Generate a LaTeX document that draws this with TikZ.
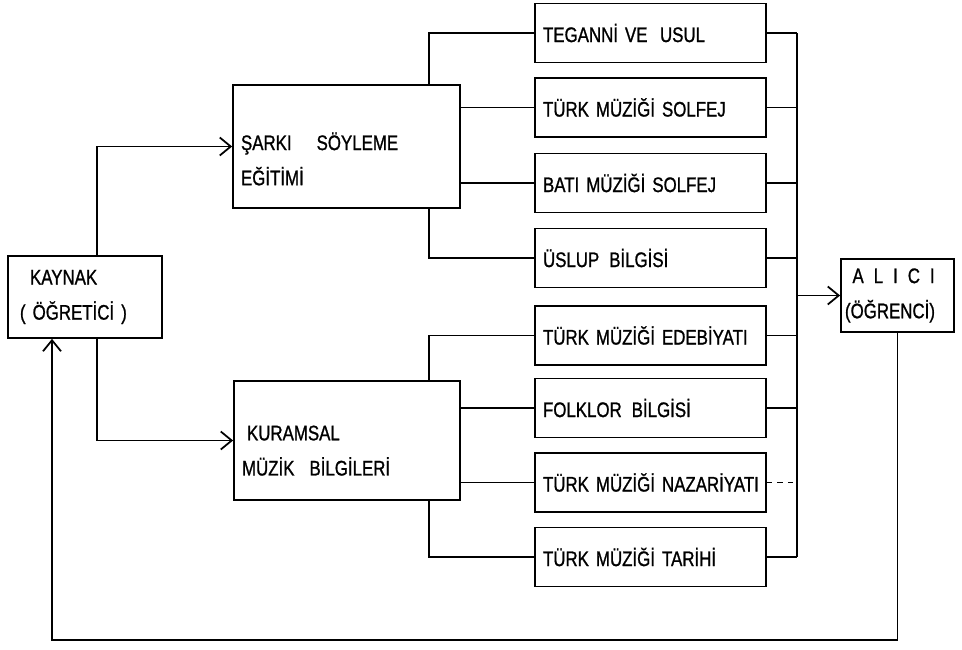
\documentclass[tikz,border=0pt]{standalone}
\usepackage{fontspec}
\setmainfont{Liberation Sans}[FakeStretch=0.8, FakeBold=1]
\usepackage{tikz}
\usetikzlibrary{arrows,arrows.meta,positioning}

\begin{document}
\begin{tikzpicture}[x=0.02cm, y=-0.02cm,
    every node/.style={font=\fontsize{12}{20}\selectfont},
    box/.style={draw, rectangle, line width=1pt, align=left, inner xsep=0.16cm},
    topic/.style={box, minimum width=4.62cm, minimum height=1.18cm, text width=4.3cm},
    link/.style={line width=1pt},
    >={Straight Barb[length=2.2mm,width=3.6mm]}]
    \useasboundingbox (0,0) rectangle (962,649);

    % Source and receiver
    \node[box, minimum width=3.08cm, minimum height=1.64cm, text width=2.6cm] (kaynak) at (85,297) {\hspace{0.2cm}KAYNAK\\( ÖĞRETİCİ )};
    \node[box, minimum width=2.26cm, minimum height=1.46cm, text width=2.1cm, inner xsep=0.08cm] (alici) at (897.5,295.5) {\hspace{0.15cm}A\hspace{0.2cm}L\hspace{0.2cm}I\hspace{0.2cm}C\hspace{0.2cm}I\\(ÖĞRENCİ)};

    % Two branches
    \node[box, minimum width=4.54cm, minimum height=2.46cm, text width=4.22cm] (sarki) at (346.5,146.5) {\rule{0pt}{0.85cm}ŞARKI\hspace{0.5cm}SÖYLEME\\EĞİTİMİ};
    \node[box, minimum width=4.52cm, minimum height=2.38cm, text width=4.2cm] (kuramsal) at (347,440.5) {\rule{0pt}{0.7cm}\hspace{0.1cm}KURAMSAL\\MÜZİK\hspace{0.3cm}BİLGİLERİ};

    % Subjects
    \node[topic] (teganni) at (650.5,33) {TEGANNİ VE\hspace{0.25cm}USUL};
    \node[topic] (tsolfej) at (650.5,107.5) {TÜRK MÜZİĞİ SOLFEJ};
    \node[topic] (bsolfej) at (650.5,183) {BATI MÜZİĞİ SOLFEJ};
    \node[topic] (uslup) at (650.5,258) {ÜSLUP\hspace{0.2cm}BİLGİSİ};
    \node[topic] (edebiyat) at (650.5,335.5) {\mbox{TÜRK MÜZİĞİ EDEBİYATI}};
    \node[topic] (folklor) at (650.5,408) {FOLKLOR\hspace{0.2cm}BİLGİSİ};
    \node[topic] (nazariyat) at (650.5,482.5) {\mbox{TÜRK MÜZİĞİ NAZARİYATI}};
    \node[topic] (tarih) at (650.5,557) {TÜRK MÜZİĞİ TARİHİ};

    \coordinate (bus) at (797,0);
    \coordinate (fb) at (0,640);

    % Source to branches
    \draw[link,->] ([xshift=0.24cm]kaynak.north) |- (sarki.west);
    \draw[link,->] ([xshift=0.24cm]kaynak.south) |- (kuramsal.west);

    % Singing branch
    \draw[link] ([xshift=-0.64cm]sarki.north east) |- (teganni.west);
    \draw[link] (tsolfej.west -| sarki.east) -- (tsolfej.west);
    \draw[link] (bsolfej.west -| sarki.east) -- (bsolfej.west);
    \draw[link] ([xshift=-0.64cm]sarki.south east) |- (uslup.west);

    % Theory branch
    \draw[link] ([xshift=-0.64cm]kuramsal.north east) |- (edebiyat.west);
    \draw[link] (folklor.west -| kuramsal.east) -- (folklor.west);
    \draw[link] (nazariyat.west -| kuramsal.east) -- (nazariyat.west);
    \draw[link] ([xshift=-0.64cm]kuramsal.south east) |- (tarih.west);

    % Collector to receiver
    \foreach \t in {teganni,tsolfej,bsolfej,uslup,edebiyat,folklor,tarih}
        \draw[link] (\t.east) -- (\t.east -| bus);
    \draw[link, dashed] (nazariyat.east) -- (nazariyat.east -| bus);
    \draw[link] (teganni.east -| bus) -- (tarih.east -| bus);
    \draw[link,->] (alici.west -| bus) -- (alici.west);

    % Feedback
    \draw[link,->] (alici.south) -- (alici.south |- fb) -| ([xshift=-0.66cm]kaynak.south);
\end{tikzpicture}
\end{document}
